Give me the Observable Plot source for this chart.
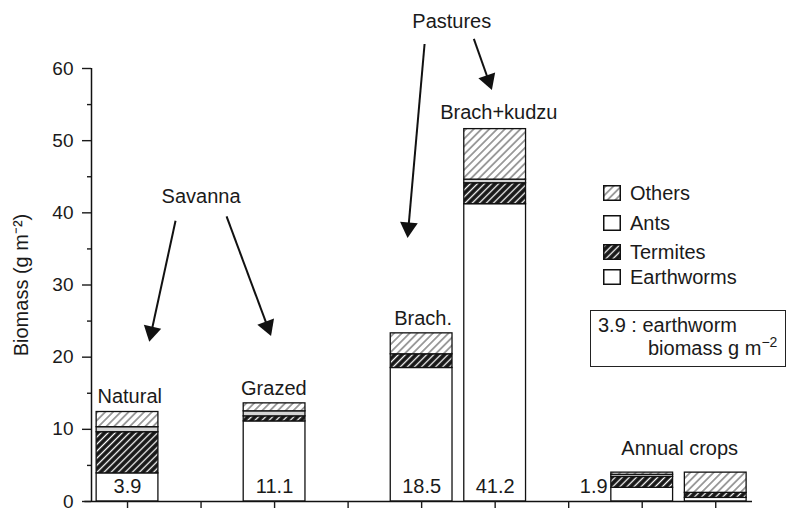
<!DOCTYPE html>
<html><head><meta charset="utf-8">
<script src="https://cdn.jsdelivr.net/npm/d3@7"></script>
<script src="https://cdn.jsdelivr.net/npm/@observablehq/plot@0.6"></script>
<style>
body{margin:0;background:#fff;}
#wrap{position:relative;width:788px;height:508px;font-family:"Liberation Sans",Arial,Helvetica,sans-serif;color:#1a1a1a;}
.leg{position:absolute;left:603px;height:24px;font-size:20px;display:flex;align-items:center;white-space:nowrap;}
.leg svg{margin-right:9px;display:block;}
#note{position:absolute;left:590px;top:310px;width:194px;height:55px;border:1.5px solid #222;}
.nl{position:absolute;font-size:20px;line-height:20px;white-space:nowrap;}
</style></head><body><div id="wrap"></div>
<script>
// ---- data ----
const sites = ["Natural", "Grazed", "Brach.", "Brach+kudzu", "Annual crops 1", "Annual crops 2"];
const positions = [0, 2, 4, 5, 7, 8];
const earthworms = [3.9, 11.1, 18.5, 41.2, 1.9, 0.5];
const termites = [5.7, 0.7, 1.9, 2.9, 1.5, 0.7];
const ants = [0.7, 0.7, 0.0, 0.5, 0.3, 0.0];
const others = [2.1, 1.1, 2.9, 7.0, 0.3, 2.8];
const seriesNames = ["Earthworms", "Termites", "Ants", "Others"];
const legendOrder = ["Others", "Ants", "Termites", "Earthworms"];
const valueLabels = ["3.9", "11.1", "18.5", "41.2", "1.9"];
const valueLabelX = [0, 2, 4, 5, 6.53];
const valueLabelAnchor = ["middle", "middle", "middle", "middle", "end"];
const yTicks = [0, 10, 20, 30, 40, 50, 60];
const yMinorTicks = [5, 15, 25, 35, 45, 55];
const xTicks = [0, 1, 2, 3, 4, 5, 6, 7, 8];
const annotations = [
  {label: "Savanna", x: 1.0, y: 42.2},
  {label: "Pastures", x: 4.41, y: 66.5},
  {label: "Natural", x: 0.03, y: 14.5},
  {label: "Grazed", x: 1.99, y: 15.7},
  {label: "Brach.", x: 4.02, y: 25.3},
  {label: "Brach+kudzu", x: 5.05, y: 53.9},
  {label: "Annual crops", x: 7.51, y: 7.3}
];
const arrows = [
  {x1: 0.653, y1: 38.9, x2: 0.299, y2: 22.3},
  {x1: 1.347, y1: 39.5, x2: 1.946, y2: 23.1},
  {x1: 4.04, y1: 63.4, x2: 3.81, y2: 36.7},
  {x1: 4.71, y1: 64.1, x2: 4.95, y2: 57.2}
];

// ---- layout ----
const W = 788, H = 508, mL = 91, mR = 36, mT = 68, mB = 7;
const xDomain = [-0.49, 8.5], yDomain = [0, 60];
const barHalf = 0.42;
const kx = (W - mL - mR) / (xDomain[1] - xDomain[0]);
const ky = (H - mT - mB) / (yDomain[1] - yDomain[0]);
const fills = {Earthworms: "white", Termites: "url(#pat-termites)", Ants: "#d4d4d4", Others: "url(#pat-others)"};

const seriesArrays = [earthworms, termites, ants, others];
const rows = [];
positions.forEach((p, i) => {
  let acc = 0;
  seriesArrays.forEach((arr, j) => {
    const v = arr[i];
    if (v > 0) rows.push({site: sites[i], pos: p, series: seriesNames[j], y1: acc, y2: acc + v});
    acc += v;
  });
});
const valueRows = valueLabels.map((t, i) => ({text: t, x: valueLabelX[i], anchor: valueLabelAnchor[i]}));

const heads = arrows.map(a => {
  const dxp = (a.x2 - a.x1) * kx, dyp = -(a.y2 - a.y1) * ky;
  const len = Math.hypot(dxp, dyp), ux = dxp / len, uy = dyp / len;
  const back = 9;
  return {
    x1: a.x1, y1: a.y1,
    hx: a.x2 - back * ux / kx, hy: a.y2 + back * uy / ky,
    angle: Math.atan2(ux, -uy) * 180 / Math.PI
  };
});

const plot = Plot.plot({
  width: W, height: H,
  marginLeft: mL, marginRight: mR, marginTop: mT, marginBottom: mB,
  style: {fontFamily: '"Liberation Sans", Arial, Helvetica, sans-serif', fontSize: "19px", color: "#1a1a1a", background: "white", overflow: "visible"},
  x: {type: "linear", domain: xDomain},
  y: {domain: yDomain},
  color: {type: "ordinal", domain: seriesNames, range: seriesNames.map(s => fills[s])},
  marks: [
    Plot.rect(rows, {x1: d => d.pos - barHalf, x2: d => d.pos + barHalf, y1: "y1", y2: "y2", fill: "series", stroke: "#111", strokeWidth: 1.3}),
    Plot.ruleY([0], {x1: xDomain[0] - 0.09, x2: xDomain[1], stroke: "#111", strokeWidth: 1.5}),
    Plot.ruleX([xDomain[0]], {y1: yDomain[0], y2: yDomain[1], stroke: "#111", strokeWidth: 1.5}),
    Plot.axisY({ticks: yTicks, tickSize: 9, tickPadding: 9, fontSize: 19, label: null, tickFormat: d => d, strokeWidth: 1.4}),
    Plot.axisY({ticks: yMinorTicks, tickSize: 4, label: null, tickFormat: () => "", strokeWidth: 1.4}),
    Plot.axisX({ticks: xTicks, tickSize: 8, label: null, tickFormat: () => "", strokeWidth: 1.4}),
    Plot.text(valueRows.filter(d => d.anchor === "middle"), {x: "x", y: 2.0, text: "text", fontSize: 20, textAnchor: "middle", fill: "#1a1a1a"}),
    Plot.text(valueRows.filter(d => d.anchor === "end"), {x: "x", y: 2.0, text: "text", fontSize: 20, textAnchor: "end", fill: "#1a1a1a"}),
    Plot.text(annotations, {x: "x", y: "y", text: "label", fontSize: 20, fill: "#1a1a1a"}),
    Plot.link(heads, {x1: "x1", y1: "y1", x2: "hx", y2: "hy", stroke: "#111", strokeWidth: 2}),
    Plot.dot(heads, {x: "hx", y: "hy", symbol: "triangle", r: 6.6, fill: "#111", rotate: "angle"}),
    Plot.text(["Biomass (g m⁻²)"], {text: d => d, frameAnchor: "left", textAnchor: "middle", rotate: -90, dx: -70, dy: 0, fontSize: 20, fill: "#1a1a1a"})
  ]
});

d3.select(plot).insert("defs", ":first-child").html(`
<pattern id="pat-others" patternUnits="userSpaceOnUse" width="5.5" height="5.5" patternTransform="rotate(45)">
  <rect width="5.5" height="5.5" fill="white"/>
  <line x1="2.75" y1="0" x2="2.75" y2="5.5" stroke="#444" stroke-width="1"/>
</pattern>
<pattern id="pat-termites" patternUnits="userSpaceOnUse" width="5" height="5" patternTransform="rotate(45)">
  <rect width="5" height="5" fill="#161616"/>
  <line x1="2.5" y1="0" x2="2.5" y2="5" stroke="white" stroke-width="1.3"/>
</pattern>`);

const wrap = document.getElementById("wrap");
wrap.appendChild(plot);

// legend
const legendCenters = [193, 223, 252, 277];
legendOrder.forEach((s, i) => {
  const div = document.createElement("div");
  div.className = "leg";
  div.style.top = (legendCenters[i] - 12) + "px";
  div.innerHTML = `<svg width="18" height="16"><rect x="0.75" y="0.75" width="16.5" height="14.5" fill="${s === "Ants" ? "white" : fills[s]}" stroke="#111" stroke-width="1.5"/></svg><span>${s}</span>`;
  wrap.appendChild(div);
});

// note box
const note = document.createElement("div");
note.id = "note";
wrap.appendChild(note);
const l1 = document.createElement("div");
l1.className = "nl"; l1.style.left = "598px"; l1.style.top = "315px";
l1.textContent = "3.9 : earthworm";
wrap.appendChild(l1);
const l2 = document.createElement("div");
l2.className = "nl"; l2.style.left = "648px"; l2.style.top = "338px";
l2.innerHTML = 'biomass g m<span style="font-size:14px;position:relative;top:-8px">−2</span>';
wrap.appendChild(l2);
</script></body></html>
